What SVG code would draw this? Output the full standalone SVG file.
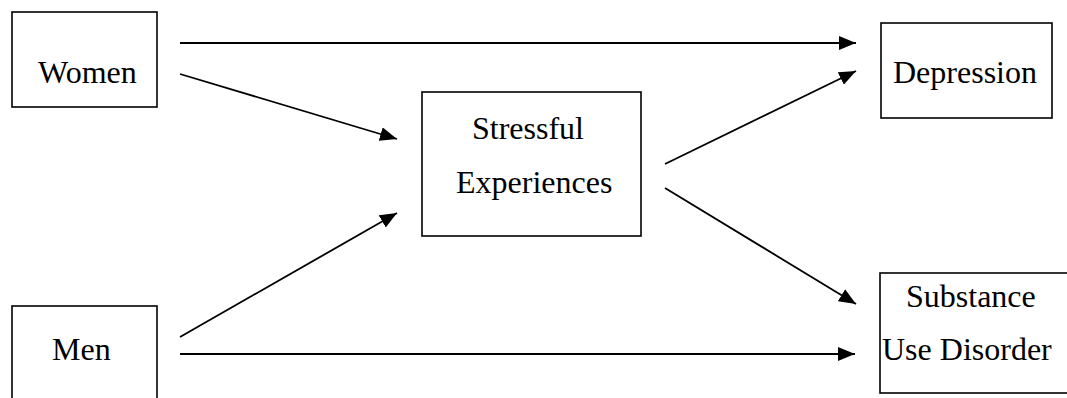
<svg xmlns="http://www.w3.org/2000/svg" width="1067" height="398" viewBox="0 0 1067 398">
  <style>
    .box { fill: #fff; stroke: #000; stroke-width: 1.6; }
    .lbl { font-family: "Liberation Serif", "Times New Roman", serif; font-size: 32px; fill: #000; }
    .edge { stroke: #000; stroke-width: 1.8; fill: none; }
  </style>
  <defs>
    <marker id="arrow" markerUnits="userSpaceOnUse" markerWidth="18" markerHeight="14" refX="17" refY="7" orient="auto">
      <path d="M0,0 L17,7 L0,14 Z" fill="#000"/>
    </marker>
  </defs>
  <rect width="1067" height="398" fill="#fff"/>

  <g id="women">
    <rect class="box" x="12" y="12" width="145" height="95"/>
    <text class="lbl" x="38" y="83">Women</text>
  </g>

  <g id="men">
    <rect class="box" x="12" y="306" width="145" height="110"/>
    <text class="lbl" x="52" y="360">Men</text>
  </g>

  <g id="stressful">
    <rect class="box" x="422" y="92" width="219" height="144"/>
    <text class="lbl" x="472" y="139">Stressful</text>
    <text class="lbl" x="456" y="193">Experiences</text>
  </g>

  <g id="depression">
    <rect class="box" x="881" y="23" width="171" height="95"/>
    <text class="lbl" x="893" y="83">Depression</text>
  </g>

  <g id="substance">
    <rect class="box" x="880" y="273" width="200" height="120"/>
    <text class="lbl" x="906" y="307">Substance</text>
    <text class="lbl" x="882" y="360">Use Disorder</text>
  </g>

  <g id="connectors">
    <line class="edge" x1="180" y1="43" x2="856" y2="43" marker-end="url(#arrow)"/>
    <line class="edge" x1="180" y1="74" x2="397" y2="139" marker-end="url(#arrow)"/>
    <line class="edge" x1="180" y1="337" x2="397" y2="213" marker-end="url(#arrow)"/>
    <line class="edge" x1="180" y1="354" x2="855" y2="354" marker-end="url(#arrow)"/>
    <line class="edge" x1="665" y1="164" x2="856" y2="71" marker-end="url(#arrow)"/>
    <line class="edge" x1="665" y1="188" x2="856" y2="304" marker-end="url(#arrow)"/>
  </g>
</svg>
